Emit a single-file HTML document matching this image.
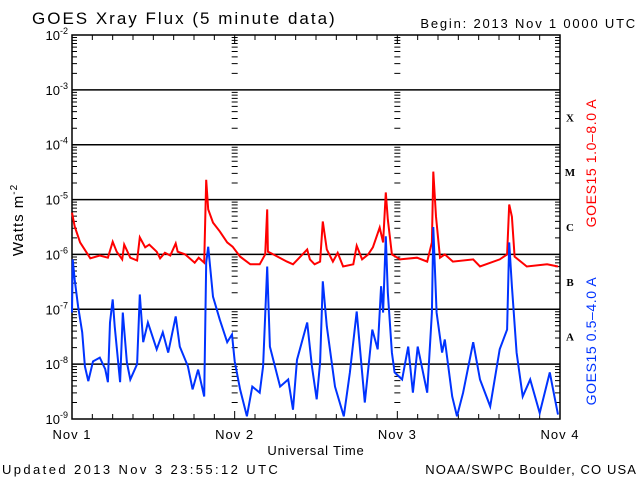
<!DOCTYPE html>
<html><head><meta charset="utf-8"><style>
html,body{margin:0;padding:0;background:#fff;}
svg{display:block;font-family:"Liberation Sans",sans-serif;}
</style></head><body>
<svg id="chart" width="640" height="480" viewBox="0 0 640 480">
<text x="32" y="24" font-size="17" letter-spacing="2">GOES Xray Flux (5 minute data)</text>
<text x="637" y="28" font-size="13" letter-spacing="1.8" text-anchor="end">Begin:  2013 Nov 1 0000 UTC</text>
<g id="grid"></g>
<g id="axes"></g>
<g id="series"></g>
<g id="labels" font-size="13"></g>
<text transform="translate(23,220) rotate(-90)" font-size="15" letter-spacing="1" text-anchor="middle">Watts m<tspan dy="-6" font-size="10">-2</tspan></text>
<text transform="translate(596,163) rotate(-90)" font-size="14" letter-spacing="0.6" fill="#ff0000" text-anchor="middle">GOES15 1.0–8.0 A</text>
<text transform="translate(596,341) rotate(-90)" font-size="14" letter-spacing="0.6" fill="#0033ff" text-anchor="middle">GOES15 0.5–4.0 A</text>
<text x="316" y="455" font-size="13" letter-spacing="0.8" text-anchor="middle">Universal Time</text>
<text x="2" y="474" font-size="13" letter-spacing="2.4">Updated 2013 Nov  3 23:55:12 UTC</text>
<text x="637" y="474" font-size="13" letter-spacing="1.1" text-anchor="end">NOAA/SWPC Boulder, CO USA</text>
</svg>
<script>
const dayLabels = ["Nov 1","Nov 2","Nov 3","Nov 4"];
const decades = [-2,-3,-4,-5,-6,-7,-8,-9];
const classLabels = ["X","M","C","B","A"];
const classLevels = [-3.5,-4.5,-5.5,-6.5,-7.5];
const longHours = [0,0.4,1.2,2.7,4.1,5.3,6.0,6.6,7.4,7.7,8.6,9.6,10.0,10.8,11.4,12.5,13.0,13.7,14.5,15.3,15.6,16.7,18.1,18.7,19.5,19.8,20.1,20.8,21.8,22.9,23.7,24.8,26.3,27.7,28.5,28.8,28.9,29.7,31.7,32.6,33.3,34.7,35.1,35.8,36.6,37.0,37.6,38.5,39.2,40.0,41.5,42.0,42.8,43.7,44.4,45.4,45.9,46.3,46.6,47.2,48.4,50.9,52.4,53.1,53.3,53.7,54.3,55.0,56.2,59.2,60.2,63.1,64.2,64.5,64.9,65.3,67.1,70.1,71.7];
const longFlux = [-5.24,-5.49,-5.78,-6.07,-6.02,-6.06,-5.77,-5.95,-6.09,-5.82,-6.06,-6.11,-5.69,-5.87,-5.82,-5.95,-6.07,-5.97,-6.02,-5.80,-5.95,-6.00,-6.15,-6.06,-6.15,-4.64,-5.18,-5.42,-5.58,-5.78,-5.86,-6.04,-6.18,-6.18,-6.00,-5.18,-5.95,-6.00,-6.13,-6.18,-6.09,-5.91,-6.09,-6.18,-6.13,-5.40,-5.91,-6.13,-5.97,-6.22,-6.18,-5.84,-6.09,-6.00,-5.87,-5.51,-5.78,-4.87,-5.36,-6.00,-6.09,-6.06,-6.13,-5.78,-4.49,-5.31,-6.06,-6.00,-6.13,-6.09,-6.22,-6.09,-6.00,-5.09,-5.31,-6.04,-6.22,-6.18,-6.22];
const shortHours = [0,0.1,0.4,0.9,1.5,1.9,2.4,3.1,4.1,4.9,5.3,5.6,6.0,6.3,7.1,7.5,8.1,8.6,9.6,10.0,10.5,11.2,12.5,13.4,14.2,15.3,15.9,17.1,17.8,18.6,19.5,19.8,20.1,20.8,21.8,22.9,23.6,24.0,24.8,25.8,26.6,27.7,28.2,28.8,29.2,30.7,31.9,32.6,33.2,34.7,35.4,36.1,36.6,37.0,37.6,38.8,40.1,41.0,42.0,42.8,43.2,44.3,45.1,45.6,45.9,46.3,46.6,47.2,47.6,48.7,49.6,50.3,51.0,52.4,53.1,53.3,53.8,54.6,55.0,56.1,56.8,57.7,59.2,60.2,61.7,63.1,64.2,64.5,64.9,65.6,66.5,67.6,69.0,70.5,70.9,71.7];
const shortFlux = [-7.06,-6.09,-6.46,-6.95,-7.42,-8.04,-8.31,-7.95,-7.88,-8.09,-8.33,-7.24,-6.82,-7.31,-8.33,-7.06,-7.97,-8.28,-8.00,-6.73,-7.60,-7.24,-7.73,-7.42,-7.79,-7.13,-7.68,-8.04,-8.46,-8.10,-8.59,-6.15,-5.86,-6.77,-7.19,-7.60,-7.46,-7.95,-8.46,-8.95,-8.41,-8.52,-8.04,-6.22,-7.68,-8.41,-8.28,-8.83,-7.92,-7.24,-8.04,-8.64,-7.97,-6.49,-7.31,-8.41,-8.95,-8.15,-7.04,-8.15,-8.70,-7.37,-7.73,-6.58,-7.06,-5.67,-6.69,-7.79,-8.15,-8.28,-7.68,-8.52,-7.68,-8.52,-7.06,-5.50,-7.06,-7.79,-7.55,-8.59,-8.95,-8.52,-7.60,-8.28,-8.77,-7.73,-7.37,-5.78,-6.58,-7.79,-8.59,-8.28,-8.89,-8.15,-8.41,-8.92];

const NS="http://www.w3.org/2000/svg";
const L=72,R=560,T=35,B=419;
const xs=h=>L+(R-L)*h/72;
const ys=v=>T+(B-T)*(-2-v)/7;
function mk(tag,attrs,parent){const e=document.createElementNS(NS,tag);for(const k in attrs)e.setAttribute(k,attrs[k]);parent.appendChild(e);return e;}
const grid=document.getElementById('grid'),axes=document.getElementById('axes'),ser=document.getElementById('series'),lab=document.getElementById('labels');
const fr=mk('rect',{x:L,y:T,width:R-L,height:B-T,fill:'none',stroke:'#000','stroke-width':1.5},axes);


decades.forEach(d=>{
  if(d<-2&&d>-9){const g=mk('line',{x1:L,x2:R,y1:ys(d),y2:ys(d),stroke:'#000','stroke-width':1.5},grid);
    
    }
  const t=mk('text',{x:L-4,y:ys(d)+5,'text-anchor':'end','font-size':13},lab);
  
  
  t.textContent='10';
  const s=mk('tspan',{dy:-6,'font-size':9},t);s.textContent=String(d);
  
  
});
let tk='';
for(let d=-9;d<-2;d++){for(let m=2;m<10;m++){const y=ys(d+Math.log10(m));const len=5;
  tk+=`M${L},${y}h${len}M${R},${y}h${-len}`;
  [1,2].forEach(k=>{const x=xs(24*k);tk+=`M${x-3},${y}h6`;});
}}
for(let h=3;h<72;h+=3){const x=xs(h);const len=h%24===0?8:5;tk+=`M${x},${B}v${-len}M${x},${T}v${len}`;}
const tp=mk('path',{d:tk,stroke:'#000','stroke-width':1,fill:'none'},axes);


dayLabels.forEach((s,i)=>{const t=mk('text',{x:xs(24*i),y:439,'text-anchor':'middle','font-size':13,'letter-spacing':1},lab);t.textContent=s;
  
  });
classLabels.forEach((s,i)=>{const t=mk('text',{x:570,y:ys(classLevels[i])+4,'text-anchor':'middle','font-size':11,'font-weight':'bold','font-family':'Liberation Serif, serif'},lab);t.textContent=s;
  
  });
function line(hs,vs,color,name){
  const d=hs.map((h,i)=>(i?'L':'M')+xs(h).toFixed(1)+','+ys(vs[i]).toFixed(1)).join('');
  const p=mk('path',{d:d,stroke:color,'stroke-width':2,fill:'none','stroke-linejoin':'miter'},ser);
  
  
}
line(longHours,longFlux,'#ff0000','series-long-1-8A');
line(shortHours,shortFlux,'#0033ff','series-short-0.5-4A');
</script>
</body></html>
